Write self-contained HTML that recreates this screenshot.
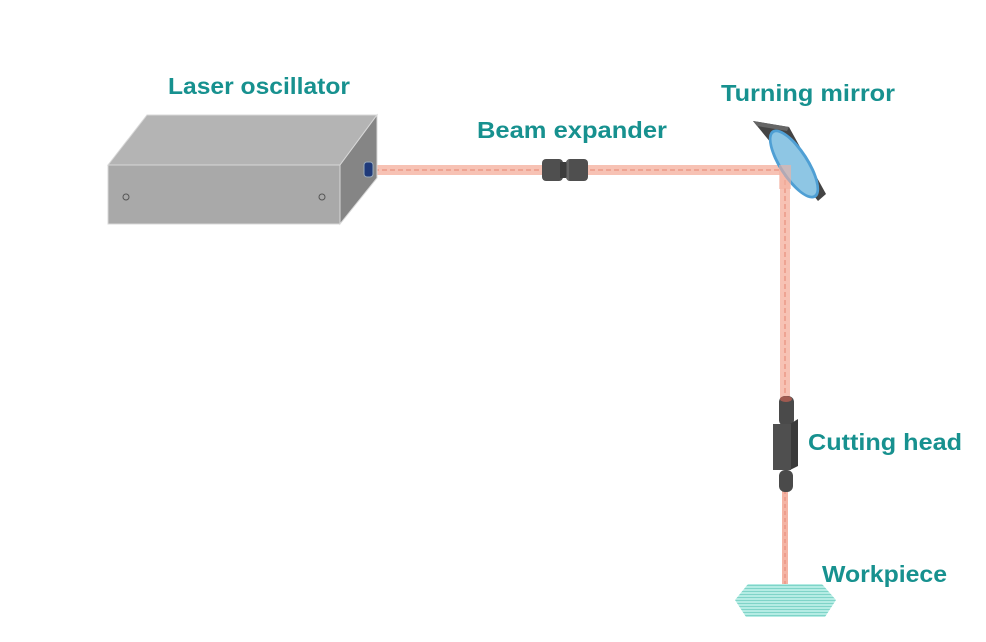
<!DOCTYPE html>
<html><head><style>body{margin:0;background:#fff}svg{display:block}text{font-family:"Liberation Sans",sans-serif;font-weight:bold;font-size:23px;fill:#17918f}</style></head>
<body>
<svg width="986" height="642" viewBox="0 0 986 642">
<defs>
<pattern id="st" width="4" height="3" patternUnits="userSpaceOnUse"><rect width="4" height="3" fill="#b5ece4"/><rect width="4" height="1" fill="#7fd4c8"/></pattern>
</defs>
<!-- beams -->
<rect x="372" y="165" width="418" height="10" fill="#f7c2b4"/>
<line x1="374" y1="170" x2="785" y2="170" stroke="#eb9a88" stroke-width="1.5" stroke-dasharray="5,3"/>
<rect x="780" y="170" width="10" height="230" fill="#f7c2b4"/>
<line x1="785" y1="172" x2="785" y2="398" stroke="#eb9a88" stroke-width="1.5" stroke-dasharray="5,3"/>
<rect x="782" y="490" width="6" height="104" fill="#f4b4a4"/>
<line x1="785" y1="490" x2="785" y2="594" stroke="#e88878" stroke-width="1" stroke-dasharray="4,3"/>
<!-- box -->
<polygon points="108,165 147,115 377,115 340,165" fill="#b4b4b4" stroke="#d8d8d8"/>
<polygon points="108,165 340,165 340,224 108,224" fill="#a9a9a9" stroke="#d8d8d8"/>
<polygon points="340,165 377,115 377,178 340,224" fill="#858585" stroke="#d8d8d8"/>
<circle cx="126" cy="197" r="3" fill="none" stroke="#555" stroke-width="1"/>
<circle cx="322" cy="197" r="3" fill="none" stroke="#555" stroke-width="1"/>
<rect x="364" y="162" width="9" height="15" rx="3" fill="#1f3a7a" stroke="#9ab" stroke-width="1"/>
<!-- expander -->
<rect x="542" y="159" width="21" height="22" rx="4" fill="#4f4f4f"/>
<rect x="560" y="162" width="6" height="16" fill="#3c3c3c"/>
<rect x="566" y="159" width="22" height="22" rx="4" fill="#4f4f4f"/>
<line x1="568" y1="160" x2="568" y2="180" stroke="#777"/>
<!-- mirror -->
<polygon points="753,121 789,127 826,194 818,201 790,166" fill="#444"/>
<polygon points="753,121 789,127 787,131 757,126" fill="#666"/>
<ellipse cx="794" cy="164" rx="40" ry="15" transform="rotate(57 794 164)" fill="#4f9fd4"/>
<ellipse cx="794" cy="164" rx="37" ry="12" transform="rotate(57 794 164)" fill="#8ec6e4"/>
<rect x="779" y="165" width="12" height="24" fill="#f4b0a0" opacity="0.6"/>
<!-- cutting head -->
<rect x="779" y="396" width="15" height="30" rx="6" fill="#4a4a4a"/>
<ellipse cx="786" cy="399" rx="6" ry="3" fill="#a05a50"/>
<polygon points="790,424 798,419 798,466 790,470" fill="#3a3a3a"/>
<rect x="773" y="424" width="18" height="46" fill="#4f4f4f"/>
<rect x="779" y="470" width="14" height="22" rx="6" fill="#4a4a4a"/>
<!-- workpiece -->
<polygon points="748,584 822,584 836,600 825,617 746,617 735,600" fill="url(#st)"/>
<!-- labels -->
<text x="168" y="94" textLength="182" lengthAdjust="spacingAndGlyphs">Laser oscillator</text>
<text x="477" y="138" textLength="190" lengthAdjust="spacingAndGlyphs">Beam expander</text>
<text x="721" y="101" textLength="174" lengthAdjust="spacingAndGlyphs">Turning mirror</text>
<text x="808" y="450" textLength="154" lengthAdjust="spacingAndGlyphs">Cutting head</text>
<text x="822" y="582" textLength="125" lengthAdjust="spacingAndGlyphs">Workpiece</text>
</svg>
</body></html>
